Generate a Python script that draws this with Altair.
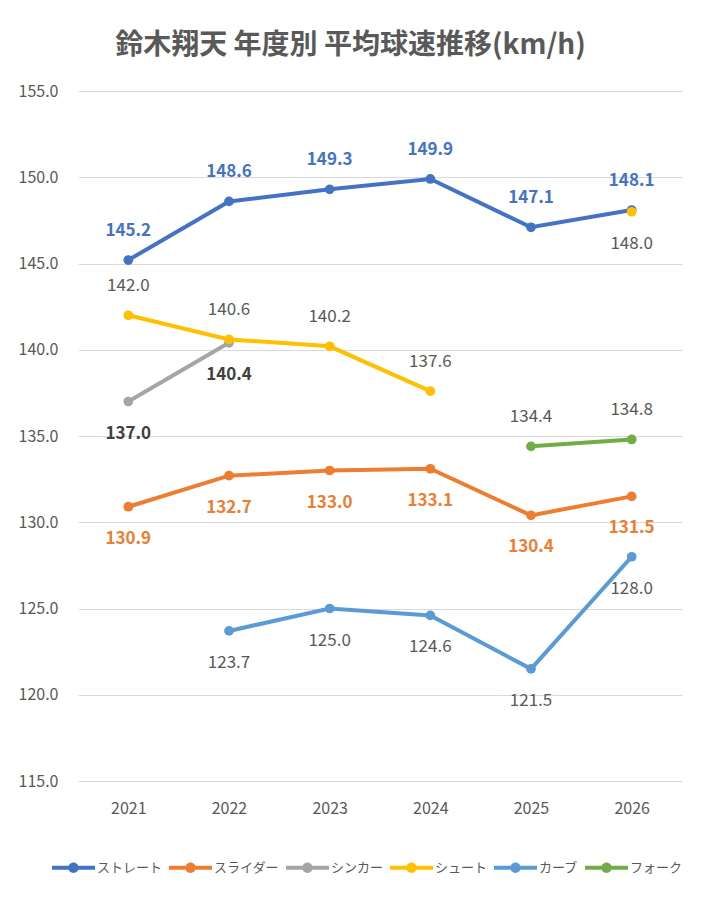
import altair as alt
import pandas as pd

years = ["2021", "2022", "2023", "2024", "2025", "2026"]
series = ["ストレート", "スライダー", "シンカー", "シュート", "カーブ", "フォーク"]
colors = ["#4472C4", "#ED7D31", "#A5A5A5", "#FFC000", "#5B9BD5", "#70AD47"]

straight = [145.2, 148.6, 149.3, 149.9, 147.1, 148.1]
slider = [130.9, 132.7, 133.0, 133.1, 130.4, 131.5]
sinker = [137.0, 140.4, None, None, None, None]
shoot = [142.0, 140.6, 140.2, 137.6, None, 148.0]
curve = [None, 123.7, 125.0, 124.6, 121.5, 128.0]
fork = [None, None, None, None, 134.4, 134.8]

# label placement: 1 above, -1 below
straight_pos = [1, 1, 1, 1, 1, 1]
slider_pos = [-1, -1, -1, -1, -1, -1]
sinker_pos = [-1, -1, 0, 0, 0, 0]
shoot_pos = [1, 1, 1, 1, 0, -1]
curve_pos = [0, -1, -1, -1, -1, -1]
fork_pos = [0, 0, 0, 0, 1, 1]

label_colors = ["#4472C4", "#ED7D31", "#404040", "#595959", "#595959", "#595959"]
label_bold = [True, True, True, False, False, False]

all_vals = [straight, slider, sinker, shoot, curve, fork]
all_pos = [straight_pos, slider_pos, sinker_pos, shoot_pos, curve_pos, fork_pos]

rows = []
for si, (name, vals, poss) in enumerate(zip(series, all_vals, all_pos)):
    seg = 0
    prev_none = False
    for yr, v, p in zip(years, vals, poss):
        if v is None:
            prev_none = True
            continue
        if prev_none:
            seg += 1
            prev_none = False
        rows.append({
            "year": yr, "series": name, "value": v, "seg": f"{name}-{seg}",
            "order": si, "above": p > 0,
            "lab": f"{v:.1f}", "lcolor": label_colors[si], "bold": label_bold[si],
        })
df = pd.DataFrame(rows)

FONT = "Noto Sans CJK JP"
GRAY = "#595959"

x = alt.X("year:O", title=None, sort=years,
          scale=alt.Scale(domain=years, paddingInner=0, paddingOuter=0.5),
          axis=alt.Axis(labelAngle=0, ticks=False, domain=False, labelPadding=19,
                        labelFontSize=16, labelColor=GRAY, labelFont=FONT))
y = alt.Y("value:Q", title=None,
          scale=alt.Scale(domain=[115, 155], nice=False, zero=False),
          axis=alt.Axis(values=[115, 120, 125, 130, 135, 140, 145, 150, 155], format=".1f",
                        ticks=False, domain=False, labelPadding=20, gridColor="#D9D9D9",
                        labelFontSize=16, labelColor=GRAY, labelFont=FONT))

legend_path = ("M -1 -0.093 L 1 -0.093 L 1 0.093 L -1 0.093 Z "
               "M -0.24 0 A 0.24 0.24 0 1 1 0.24 0 A 0.24 0.24 0 1 1 -0.24 0 Z")
color = alt.Color("series:N", sort=series,
                  scale=alt.Scale(domain=series, range=colors),
                  legend=alt.Legend(title=None, orient="none", direction="horizontal",
                                    legendX=-26, legendY=755,
                                    symbolType=legend_path, symbolSize=1849,
                                    symbolStrokeWidth=0, columnPadding=6, labelOffset=2,
                                    labelFontSize=13, labelColor=GRAY, labelFont=FONT))

base = alt.Chart(df)
lines = base.mark_line(strokeWidth=4).encode(
    x=x, y=y, color=color, detail="seg:N", order="order:Q")
points = base.mark_point(filled=True, size=95, opacity=1).encode(
    x=x, y=y, color=color, order="order:Q")


def label_layer(bold, above):
    cond = ("datum.bold" if bold else "!datum.bold") + " && " + ("datum.above" if above else "!datum.above")
    kw = dict(font=FONT, fontSize=17, baseline="middle", dy=-29 if above else 32)
    if bold:
        kw["fontWeight"] = "bold"
    return base.transform_filter(cond).mark_text(**kw).encode(
        x=x, y=y, text="lab:N", color=alt.Color("lcolor:N", scale=None))


texts = [label_layer(b, a) for b in (True, False) for a in (True, False)]

chart = alt.layer(lines, points, *texts).properties(
    width=604, height=690,
    title=alt.Title("鈴木翔天 年度別 平均球速推移(km/h)", font=FONT, fontSize=28,
                    fontWeight="bold", color=GRAY, anchor="middle",
                    frame="bounds", offset=23),
    autosize=alt.AutoSizeParams(type="none"),
    padding={"left": 70, "top": 83, "right": 15, "bottom": 114},
    background="white",
).configure_view(stroke=None)

chart.save("out.html", embed_options={"renderer": "svg", "actions": False})
